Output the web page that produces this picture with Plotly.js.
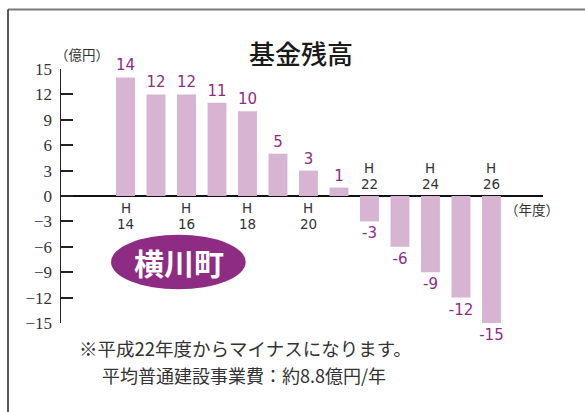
<!DOCTYPE html>
<html>
<head>
<meta charset="utf-8">
<script src="https://cdn.plot.ly/plotly-3.0.1.min.js"></script>
<style>html,body{margin:0;padding:0;background:#fff;}#chart{width:585px;height:412px;}</style>
</head>
<body>
<div id="chart"></div>
<script>
// Data
var years = ["H14","H15","H16","H17","H18","H19","H20","H21","H22","H23","H24","H25","H26"];
var balances = [14, 12, 12, 11, 10, 5, 3, 1, -3, -6, -9, -12, -15];
var yTicks = [15, 12, 9, 6, 3, 0, -3, -6, -9, -12, -15];
var labeledYearsBelow = ["H14","H16","H18","H20"];
var labeledYearsAbove = ["H22","H24","H26"];
var chartTitle = "基金残高";
var unitLabel = "（億円）";
var xUnitLabel = "（年度）";
var badgeText = "横川町";
var note1 = "※平成22年度からマイナスになります。";
var note2 = "平均普通建設事業費：約8.8億円/年";

var purple = "#8E2C84";
var barColor = "#D8B4D3";
var textColor = "#333333";
var cjk = "Noto Sans CJK JP, Noto Sans, sans-serif";
var sans = "DejaVu Sans, sans-serif";
var serif = "Liberation Serif, Times New Roman, serif";

var trace = {
  type: "bar",
  x: years,
  y: balances,
  width: 0.62,
  marker: {color: barColor, line: {width: 0}},
  text: balances.map(function(v){ return String(v); }),
  textposition: "outside",
  constraintext: "none",
  cliponaxis: false,
  textfont: {family: sans, size: 15, color: purple},
  hoverinfo: "none"
};

var annotations = [];
function addYear(yr, hShift, nShift){
  annotations.push({x: yr, y: 0, xref: "x", yref: "y", text: yr.slice(0,1), showarrow: false,
    yanchor: "middle", yshift: hShift, borderpad: 0, font: {family: sans, size: 13.5, color: textColor}});
  annotations.push({x: yr, y: 0, xref: "x", yref: "y", text: yr.slice(1), showarrow: false,
    yanchor: "middle", yshift: nShift, borderpad: 0, font: {family: sans, size: 13.5, color: textColor}});
}
labeledYearsBelow.forEach(function(yr){ addYear(yr, -12, -28); });
labeledYearsAbove.forEach(function(yr){ addYear(yr, 28, 12); });

// texts (paper coords: plot area x 61..543, y 68.5..322.7)
function px(x){ return (x - 61) / 482; }
function py(y){ return (322.7 - y) / 254.2; }
annotations.push({x: px(301), y: py(52), xref: "paper", yref: "paper", text: chartTitle, showarrow: false,
  xanchor: "center", yanchor: "middle", font: {family: cjk, size: 26, color: "#1a1a1a", weight: 500}});
annotations.push({x: px(82), y: py(53), xref: "paper", yref: "paper", text: unitLabel, showarrow: false,
  xanchor: "center", yanchor: "middle", font: {family: cjk, size: 13.5, color: textColor}});
annotations.push({x: px(532), y: py(209), xref: "paper", yref: "paper", text: xUnitLabel, showarrow: false,
  xanchor: "center", yanchor: "middle", font: {family: cjk, size: 13.5, color: textColor}});
annotations.push({x: px(179), y: py(262), xref: "paper", yref: "paper", text: "<b>" + badgeText + "</b>", showarrow: false,
  xanchor: "center", yanchor: "middle", font: {family: cjk, size: 30, color: "#ffffff"}});
annotations.push({x: px(245.5), y: py(348), xref: "paper", yref: "paper", text: note1, showarrow: false,
  xanchor: "center", yanchor: "middle", font: {family: cjk, size: 18.5, color: textColor}});
annotations.push({x: px(244), y: py(375), xref: "paper", yref: "paper", text: note2, showarrow: false,
  xanchor: "center", yanchor: "middle", font: {family: cjk, size: 18, color: textColor}});

var shapes = [
  {type: "circle", xref: "paper", yref: "paper", x0: px(111), x1: px(245.7), y0: py(234.3), y1: py(289),
   fillcolor: purple, line: {width: 0}, layer: "above"},
  {type: "line", xref: "paper", yref: "paper", x0: px(8), x1: px(586), y0: py(9), y1: py(9),
   line: {color: "#7a7a7a", width: 2}},
  {type: "line", xref: "paper", yref: "paper", x0: px(8), x1: px(8), y0: py(9), y1: py(413),
   line: {color: "#222", width: 1.5}}
];

var layout = {
  width: 585, height: 412,
  margin: {l: 61, r: 42, t: 68.5, b: 89.3, pad: 0},
  paper_bgcolor: "#ffffff", plot_bgcolor: "rgba(0,0,0,0)",
  showlegend: false,
  xaxis: {type: "category", range: [-2.115, 13.69], showticklabels: false, showgrid: false,
          zeroline: false, showline: false, ticks: "", fixedrange: true},
  yaxis: {range: [-15, 15], tickvals: yTicks, ticktext: yTicks.map(function(v){ return v < 0 ? "\u2212" + Math.abs(v) : String(v); }),
          ticks: "inside", ticklen: 12, tickwidth: 2, tickcolor: "#222",
          showline: true, linecolor: "#222", linewidth: 1.5, ticklabelstandoff: 4,
          showgrid: false, zeroline: true, zerolinecolor: "#111", zerolinewidth: 2,
          tickfont: {family: serif, size: 17, color: textColor},
          fixedrange: true},
  annotations: annotations,
  shapes: shapes
};

Plotly.newPlot("chart", [trace], layout, {displayModeBar: false, staticPlot: true});
</script>
</body>
</html>
